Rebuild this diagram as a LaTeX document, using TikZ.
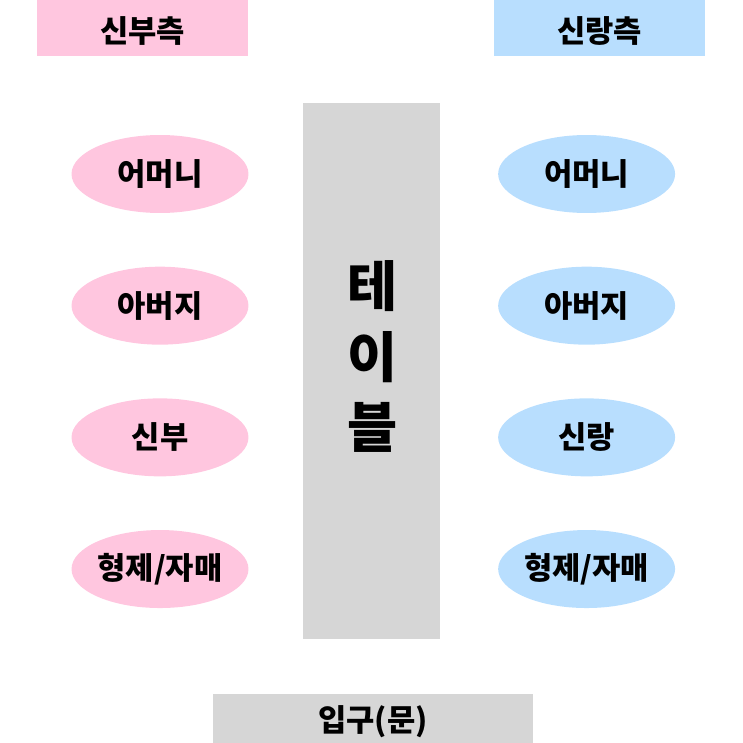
\documentclass[tikz,border=0pt]{standalone}
\usepackage{fontspec}
\setmainfont{Noto Sans CJK KR}[BoldFont={Noto Sans CJK KR Black}]
\usepackage{tikz}
\usetikzlibrary{shapes,positioning,backgrounds}
\definecolor{brideink}{HTML}{FFC6DF}
\definecolor{groomink}{HTML}{B8DEFE}
\definecolor{tableink}{HTML}{D6D6D6}
\tikzset{
  node distance=1.06cm,
  label text/.style={inner sep=0pt,font=\fontsize{17.5}{20}\selectfont\bfseries},
  seat/.style={ellipse,inner sep=-5mm,minimum width=3.54cm,minimum height=1.56cm,
   font=\fontsize{17.5}{20}\selectfont\bfseries},
  brideseat/.style={seat,fill=brideink},
  groomseat/.style={seat,fill=groomink},
  sidebox/.style={rectangle,inner sep=0pt,minimum width=4.22cm,minimum height=1.12cm},
  tablechar/.style={inner sep=0pt,font=\fontsize{31}{33}\selectfont\bfseries}
}
\begin{document}
\begin{tikzpicture}[x=0.02cm,y=-0.02cm]
  \useasboundingbox (0,0) rectangle (743,743);

  % headers
  \node[sidebox,fill=brideink] (bride) at (142.5,28) {};
  \node[label text] (brideText) at (142.5,31) {신부측};
  \node[sidebox,fill=groomink] (groom) at (599.5,28) {};
  \node[label text] (groomText) at (599.5,31) {신랑측};

  % table
  \node[rectangle,fill=tableink,minimum width=2.74cm,minimum height=10.72cm] (table) at (371.5,371) {};
  \node[tablechar] (t1) at (373,286) {테};
  \node[tablechar] (t2) at (373,357) {이};
  \node[tablechar] (t3) at (373,427) {블};

  % bride side
  \node[brideseat] (bm) at (160,174) {어머니};
  \node[brideseat,below=of bm] (bf) {아버지};
  \node[brideseat,below=of bf] (bb) {신부};
  \node[brideseat,below=of bb] (bs) {형제/자매};

  % groom side
  \node[groomseat,right=4.98cm of bm] (gm) {어머니};
  \node[groomseat,right=4.98cm of bf] (gf) {아버지};
  \node[groomseat,right=4.98cm of bb] (gg) {신랑};
  \node[groomseat,right=4.98cm of bs] (gs) {형제/자매};

  % entrance
  \node[rectangle,fill=tableink,minimum width=6.4cm,minimum height=0.98cm] (door) at (373,718.5) {};
  \node[label text] (doorText) at (373,722) {입구(문)};
\end{tikzpicture}
\end{document}
